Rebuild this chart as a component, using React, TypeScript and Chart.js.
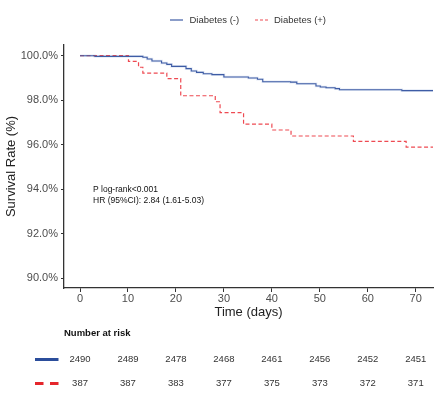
import React, { useEffect, useRef } from 'react';
import { Chart, registerables } from 'chart.js';

Chart.register(...registerables);

// ---- data ----
const seriesNames = ['Diabetes (-)', 'Diabetes (+)'];
const xTickValues = [0, 10, 20, 30, 40, 50, 60, 70];
const yTickValues = [90, 92, 94, 96, 98, 100];

const negTimes = [0, 3.1, 13.1, 14.0, 15.0, 17.0, 18.1, 19.1, 22.1, 23.2, 24.3, 25.7, 27.5, 30.0, 35.1, 37.0, 38.1, 43.9, 45.2, 49.2, 50.1, 51.3, 53.2, 54.1, 67.1, 73.6];
const negSurv = [100, 99.97, 99.93, 99.85, 99.76, 99.67, 99.61, 99.52, 99.42, 99.31, 99.25, 99.19, 99.15, 99.04, 99.0, 98.94, 98.83, 98.81, 98.74, 98.64, 98.59, 98.56, 98.52, 98.47, 98.43, 98.43];

const posTimes = [0, 10.1, 12.2, 13.1, 18.1, 21.0, 28.2, 29.2, 34.1, 40.0, 44.0, 57.0, 68.0, 73.6];
const posSurv = [100, 99.74, 99.48, 99.22, 98.97, 98.2, 97.93, 97.44, 96.92, 96.66, 96.39, 96.15, 95.89, 95.89];

const riskNeg = [2490, 2489, 2478, 2468, 2461, 2456, 2452, 2451];
const riskPos = [387, 387, 383, 377, 375, 373, 372, 371];

const annotationLines = ['P log-rank<0.001', 'HR (95%CI): 2.84 (1.61-5.03)'];

const FONT = '"Liberation Sans", Arial, Helvetica, sans-serif';
const NEG_COLOR = '#3e5ca5';
const POS_COLOR = '#ee4a52';

const toPoints = (xs: number[], ys: number[]) => xs.map((x, i) => ({ x, y: ys[i] }));

const overlayPlugin = {
  id: 'overlay',
  afterDraw(chart: any) {
    const ctx = chart.ctx as CanvasRenderingContext2D;
    const xs = chart.scales.x;
    ctx.save();
    ctx.textBaseline = 'middle';

    // legend (top)
    ctx.font = `9.5px ${FONT}`;
    ctx.fillStyle = '#333';
    ctx.lineWidth = 1.2;
    ctx.strokeStyle = NEG_COLOR;
    ctx.setLineDash([]);
    ctx.beginPath();
    ctx.moveTo(170, 20);
    ctx.lineTo(183, 20);
    ctx.stroke();
    ctx.textAlign = 'left';
    ctx.fillText(seriesNames[0], 189.5, 20);
    ctx.strokeStyle = POS_COLOR;
    ctx.setLineDash([3, 2]);
    ctx.beginPath();
    ctx.moveTo(255, 20);
    ctx.lineTo(268, 20);
    ctx.stroke();
    ctx.setLineDash([]);
    ctx.fillText(seriesNames[1], 274, 20);

    // annotation
    ctx.font = `8.5px ${FONT}`;
    ctx.fillStyle = '#111';
    ctx.fillText(annotationLines[0], 93, 190);
    ctx.fillText(annotationLines[1], 93, 201);

    // risk table
    ctx.font = `bold 9.5px ${FONT}`;
    ctx.fillStyle = '#111';
    ctx.fillText('Number at risk', 64, 333);

    const rowY = [359.5, 383.5];
    ctx.lineWidth = 3;
    ctx.strokeStyle = '#2b4d9b';
    ctx.beginPath();
    ctx.moveTo(35, rowY[0]);
    ctx.lineTo(58.5, rowY[0]);
    ctx.stroke();
    ctx.strokeStyle = '#e5262c';
    ctx.setLineDash([8.5, 6.5]);
    ctx.beginPath();
    ctx.moveTo(35, rowY[1]);
    ctx.lineTo(58.5, rowY[1]);
    ctx.stroke();
    ctx.setLineDash([]);

    ctx.font = `9.5px ${FONT}`;
    ctx.fillStyle = '#333';
    ctx.textAlign = 'center';
    xTickValues.forEach((t, i) => {
      const px = xs.getPixelForValue(t);
      ctx.fillText(String(riskNeg[i]), px, rowY[0]);
      ctx.fillText(String(riskPos[i]), px, rowY[1]);
    });
    ctx.restore();
  },
};

export default function App() {
  const ref = useRef<HTMLCanvasElement | null>(null);

  useEffect(() => {
    if (!ref.current) return;
    const chart = new Chart(ref.current, {
      type: 'line',
      data: {
        datasets: [
          {
            label: seriesNames[0] + ' band',
            data: toPoints(negTimes, negSurv),
            stepped: true,
            borderColor: 'rgba(130,160,215,0.22)',
            borderWidth: 2.6,
            pointRadius: 0,
            fill: false,
            order: 3,
          },
          {
            label: seriesNames[1],
            data: toPoints(posTimes, posSurv),
            stepped: true,
            borderColor: POS_COLOR,
            borderWidth: 1.2,
            borderDash: [4, 2.5],
            pointRadius: 0,
            fill: false,
            order: 2,
          },
          {
            label: seriesNames[0],
            data: toPoints(negTimes, negSurv),
            stepped: true,
            borderColor: NEG_COLOR,
            borderWidth: 1.1,
            pointRadius: 0,
            fill: false,
            order: 1,
          },
        ],
      },
      options: {
        responsive: false,
        animation: false,
        devicePixelRatio: 1,
        layout: { padding: { left: 0, top: 45, right: 7, bottom: 83 } },
        plugins: {
          legend: { display: false },
          tooltip: { enabled: false },
        },
        scales: {
          x: {
            type: 'linear',
            min: -3.34,
            max: 73.6,
            afterBuildTicks: (s: any) => {
              s.ticks = xTickValues.map((v) => ({ value: v }));
            },
            afterFit: (s: any) => {
              s.height = 36;
            },
            grid: { display: true, drawOnChartArea: false, drawTicks: true, tickLength: 4, color: '#333', lineWidth: 1 },
            border: { display: true, color: '#333', width: 1.3 },
            ticks: { color: '#4d4d4d', font: { family: FONT, size: 11 }, padding: 0, maxRotation: 0 },
            title: { display: true, text: 'Time (days)', color: '#222', font: { family: FONT, size: 13 }, padding: { top: 0, bottom: 4 } },
          },
          y: {
            type: 'linear',
            min: 89.56,
            max: 100.48,
            afterBuildTicks: (s: any) => {
              s.ticks = yTickValues.map((v) => ({ value: v }));
            },
            afterFit: (s: any) => {
              s.width = 64;
            },
            grid: { display: true, drawOnChartArea: false, drawTicks: true, tickLength: 3, color: '#333', lineWidth: 1 },
            border: { display: true, color: '#333', width: 1.3 },
            ticks: { color: '#4d4d4d', font: { family: FONT, size: 11 }, padding: 3, callback: (v: any) => Number(v).toFixed(1) + '%' },
            title: { display: true, text: 'Survival Rate (%)', color: '#222', font: { family: FONT, size: 13 }, padding: { top: 4, bottom: 0 } },
          },
        },
      },
      plugins: [overlayPlugin],
    } as any);
    return () => chart.destroy();
  }, []);

  return (
    <div style={{ position: 'fixed', left: 0, top: 0, width: 440, height: 407, background: '#fff' }}>
      <canvas ref={ref} width={440} height={407} style={{ display: 'block', width: 440, height: 407 }} />
    </div>
  );
}
